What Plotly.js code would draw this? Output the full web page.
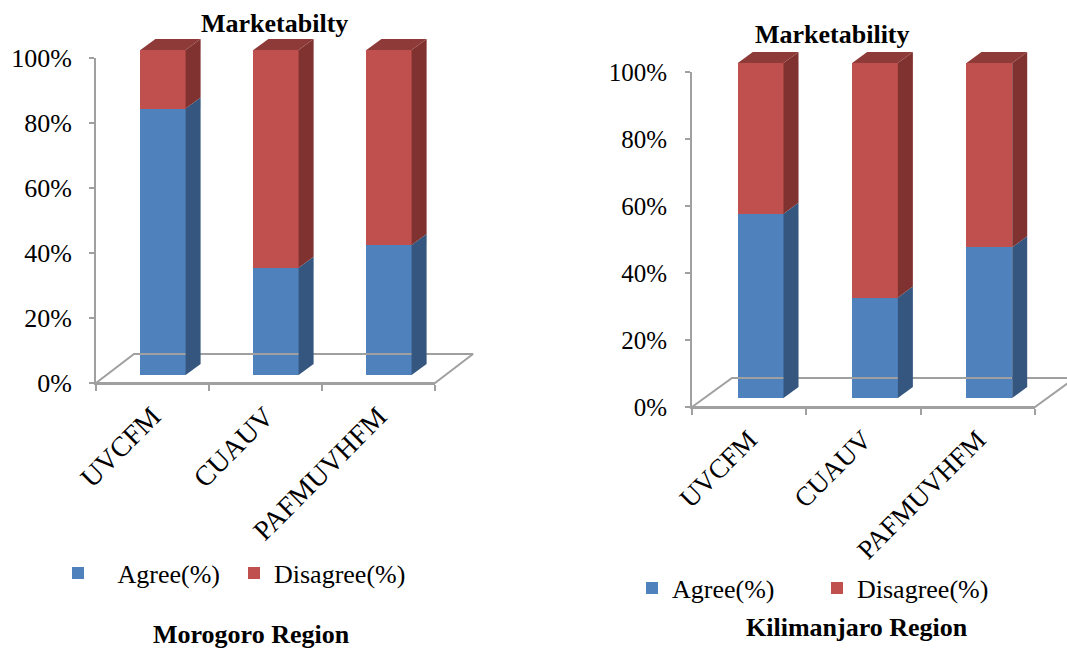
<!DOCTYPE html>
<html>
<head>
<meta charset="utf-8">
<script src="https://cdn.plot.ly/plotly-3.0.1.min.js"></script>
<style>
  html, body { margin: 0; padding: 0; background: #ffffff; }
  #chart { width: 1067px; height: 649px; }
</style>
</head>
<body>
<div id="chart"></div>
<script>
// Marketability survey results, share of respondents per practice
const categories = ['UVCFM', 'CUAUV', 'PAFMUVHFM'];
const seriesNames = ['Agree(%)', 'Disagree(%)'];
const morogoroAgree = [82, 33, 40];
const morogoroDisagree = [18, 67, 60];
const kilimanjaroAgree = [55, 30, 45];
const kilimanjaroDisagree = [45, 70, 55];
const yTicks = [0, 20, 40, 60, 80, 100];
const yTickText = yTicks.map(v => v + '%');

const W = 1067, H = 649;
const FONT = '"Liberation Serif", "Times New Roman", Times, serif';
const AXIS_GREY = '#A0A0A0';
const FRONT = ['#4F81BD', '#C0504D'];
const SIDE = ['#34567F', '#7F3230'];
const TOP = '#8E3A38';
const BARGAP = 0.6;

// Pixel geometry of each panel: axis box, depth offset of the bars and the floor
const panels = [
  { agree: morogoroAgree, disagree: morogoroDisagree,
    x0: 96, x1: 435, y0: 383, y1: 58, off: [10.5, 8], side: [15, 11], floor: [38, 29],
    title: 'Marketabilty', titlePos: [275, 24], region: 'Morogoro Region', regionPos: [251, 634],
    legend: 'legend', names: ['\u00a0\u00a0\u00a0' + seriesNames[0], seriesNames[1]],
    tickSize: 26, catSize: 28, standoff: 12 },
  { agree: kilimanjaroAgree, disagree: kilimanjaroDisagree,
    x0: 692, x1: 1035, y0: 407, y1: 72, off: [11.5, 9], side: [15, 11], floor: [40, 29],
    title: 'Marketability', titlePos: [832, 34], region: 'Kilimanjaro Region', regionPos: [857, 627],
    legend: 'legend2', names: seriesNames,
    tickSize: 25, catSize: 27, standoff: 13 }
];

const px2x = p => p / W;
const px2y = p => 1 - p / H;

const traces = [];
const layout = {
  width: W, height: H,
  margin: { l: 0, r: 0, t: 0, b: 0 },
  paper_bgcolor: '#ffffff',
  plot_bgcolor: 'rgba(0,0,0,0)',
  barmode: 'stack',
  bargap: BARGAP,
  showlegend: true,
  font: { family: FONT, color: '#000000', size: 26 },
  annotations: [],
  hovermode: false
};

panels.forEach((p, k) => {
  const ax = 2 * k + 1, bx = 2 * k + 2;
  const aX = 'xaxis' + (ax === 1 ? '' : ax), aY = 'yaxis' + (ax === 1 ? '' : ax);
  const bX = 'xaxis' + bx, bY = 'yaxis' + bx;
  const aXref = 'x' + (ax === 1 ? '' : ax), aYref = 'y' + (ax === 1 ? '' : ax);
  const bXref = 'x' + bx, bYref = 'y' + bx;

  const ppc = (p.x1 - p.x0) / categories.length;   // px per category
  const ppu = (p.y0 - p.y1) / 100;                  // px per percent
  const idx = categories.map((c, i) => i);

  // Visible axes: percentage scale and category labels
  layout[aX] = {
    domain: [px2x(p.x0), px2x(p.x1)], anchor: aYref,
    range: [-0.5, categories.length - 0.5], fixedrange: true,
    showline: true, linecolor: AXIS_GREY, linewidth: 2, showgrid: false, zeroline: false,
    tickmode: 'array', tickvals: idx, ticktext: categories, ticks: '',
    tickangle: -45, tickfont: { family: FONT, size: p.catSize, color: '#000' },
    ticklabelstandoff: 4,
    minor: { tick0: -0.5, dtick: 1, ticks: 'outside', ticklen: 6, tickcolor: AXIS_GREY, tickwidth: 2, showgrid: false }
  };
  layout[aY] = {
    domain: [px2y(p.y0), px2y(p.y1)], anchor: aXref,
    range: [0, 100], fixedrange: true,
    showline: true, linecolor: AXIS_GREY, linewidth: 2, showgrid: false, zeroline: false,
    tickmode: 'array', tickvals: yTicks, ticktext: yTickText,
    ticks: 'outside', ticklen: 5, tickcolor: AXIS_GREY, tickwidth: 2,
    tickfont: { family: FONT, size: p.tickSize, color: '#000' },
    ticklabelstandoff: p.standoff
  };
  traces.push({
    type: 'scatter', mode: 'markers', x: idx, y: p.agree, xaxis: aXref, yaxis: aYref,
    marker: { opacity: 0 }, showlegend: false, hoverinfo: 'skip'
  });

  // Depth axes: the same scales shifted back into the floor
  const bx0 = p.x0 - 2, bx1 = Math.min(p.x1 + p.floor[0] + 4, W);
  const by0 = p.y0 + 3, by1 = p.y1 - p.off[1] - p.side[1] - 6;
  const toCat = q => -0.5 + (q - p.x0 - p.off[0]) / ppc;
  const toVal = q => (p.y0 - p.off[1] - q) / ppu;
  layout[bX] = {
    domain: [px2x(bx0), px2x(bx1)], anchor: bYref,
    range: [toCat(bx0), toCat(bx1)], visible: false, fixedrange: true
  };
  layout[bY] = {
    domain: [px2y(by0), px2y(by1)], anchor: bXref,
    range: [toVal(by0), toVal(by1)], visible: false, fixedrange: true
  };

  const sdx = p.side[0] / ppc, sdy = p.side[1] / ppu;
  const fdx = p.floor[0] / ppc, fdy = p.floor[1] / ppu;
  const fl = toCat(p.x0), fr = toCat(p.x1), fb = toVal(p.y0);

  // Floor of the 3-D box
  traces.push({
    type: 'scatter', mode: 'lines', xaxis: bXref, yaxis: bYref,
    x: [fl, fr, fr + fdx, fl + fdx, fl],
    y: [fb, fb, fb + fdy, fb + fdy, fb],
    line: { color: AXIS_GREY, width: 2 }, showlegend: false, hoverinfo: 'skip'
  });

  // Front faces of the stacked bars
  [p.agree, p.disagree].forEach((vals, s) => {
    traces.push({
      type: 'bar', name: p.names[s], x: idx, y: vals, xaxis: bXref, yaxis: bYref,
      marker: { color: FRONT[s], line: { width: 0 } },
      legend: p.legend, legendgroup: p.legend + s
    });
  });

  // Side and top faces derived from each bar's stacked extent
  const hw = (1 - BARGAP) / 2;
  idx.forEach(i => {
    const segs = [[0, p.agree[i]], [p.agree[i], p.agree[i] + p.disagree[i]]];
    segs.forEach(([lo, hi], s) => {
      const xr = i + hw;
      traces.push({
        type: 'scatter', mode: 'lines', fill: 'toself', xaxis: bXref, yaxis: bYref,
        x: [xr, xr + sdx, xr + sdx, xr, xr],
        y: [lo, lo + sdy, hi + sdy, hi, lo],
        fillcolor: SIDE[s], line: { width: 0, color: SIDE[s] },
        showlegend: false, hoverinfo: 'skip'
      });
    });
    const top = p.agree[i] + p.disagree[i];
    traces.push({
      type: 'scatter', mode: 'lines', fill: 'toself', xaxis: bXref, yaxis: bYref,
      x: [i - hw, i + hw, i + hw + sdx, i - hw + sdx, i - hw],
      y: [top, top, top + sdy, top + sdy, top],
      fillcolor: TOP, line: { width: 0, color: TOP },
      showlegend: false, hoverinfo: 'skip'
    });
  });

  layout.annotations.push({
    xref: 'paper', yref: 'paper', x: px2x(p.titlePos[0]), y: px2y(p.titlePos[1]),
    xanchor: 'center', yanchor: 'middle', showarrow: false, text: p.title,
    font: { family: FONT, size: 26, weight: 700, color: '#000' }
  });
  layout.annotations.push({
    xref: 'paper', yref: 'paper', x: px2x(p.regionPos[0]), y: px2y(p.regionPos[1]),
    xanchor: 'center', yanchor: 'middle', showarrow: false, text: p.region,
    font: { family: FONT, size: 26, weight: 700, color: '#000' }
  });
});

layout.legend = {
  orientation: 'h', x: px2x(58), y: px2y(573), xanchor: 'left', yanchor: 'middle',
  bgcolor: 'rgba(0,0,0,0)', font: { family: FONT, size: 26, color: '#000' },
  entrywidthmode: 'pixels', entrywidth: 131, traceorder: 'normal'
};
layout.legend2 = {
  orientation: 'h', x: px2x(632), y: px2y(588), xanchor: 'left', yanchor: 'middle',
  bgcolor: 'rgba(0,0,0,0)', font: { family: FONT, size: 26, color: '#000' },
  entrywidthmode: 'pixels', entrywidth: 140, traceorder: 'normal'
};

Plotly.newPlot('chart', traces, layout, { staticPlot: true, displayModeBar: false });
</script>
</body>
</html>
